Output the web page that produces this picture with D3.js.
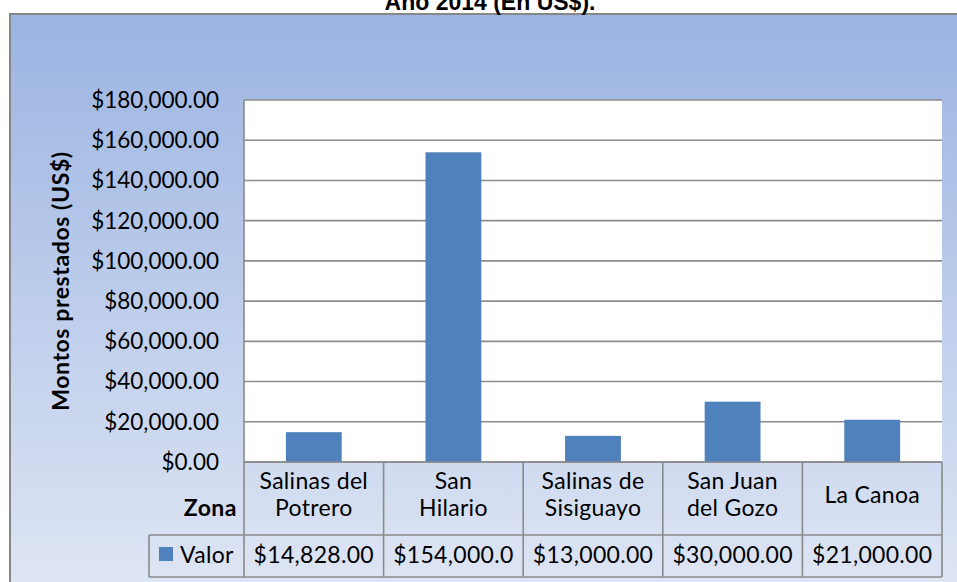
<!DOCTYPE html>
<html>
<head>
<meta charset="utf-8">
<style>
    body { margin: 0; background: #ffffff; }
    text { font-family: 'Lato', 'Open Sans', sans-serif; fill: #000000; }
    .grid line { stroke: #8c8c8c; stroke-width: 1.6px; }
    .cell { stroke: #8a8a8a; stroke-width: 1.6px; fill: none; }
</style>
</head>
<body>
<svg id="chart" width="957" height="582"></svg>
<script src="https://d3js.org/d3.v7.min.js"></script>
<script>
    // datos del grafico
    var zonas = [["Salinas del", "Potrero"], ["San", "Hilario"], ["Salinas de", "Sisiguayo"], ["San Juan", "del Gozo"], ["La Canoa"]];
    var valores = [14828, 154000, 13000, 30000, 21000];
    var yTicks = [0, 20000, 40000, 60000, 80000, 100000, 120000, 140000, 160000, 180000];
    var titulo = "Año 2014 (En US$).";
    var yTitulo = "Montos prestados (US$)";
    var serie = "Valor";

    var svg = d3.select('#chart');
    var plotLeft = 244, plotRight = 942, plotTop = 100, plotBottom = 462;
    var row1 = 535, row2 = 577;

    var fmt = d3.format("$,.2f");

    // fondo con degradado
    var grad = svg.append("defs").append("linearGradient")
        .attr("id", "bg").attr("x1", 0).attr("y1", 0).attr("x2", 0).attr("y2", 1);
    grad.append("stop").attr("offset", "0%").attr("stop-color", "#9bb4e2");
    grad.append("stop").attr("offset", "100%").attr("stop-color", "#dfe6f4");

    svg.append("rect")
        .attr("x", 10).attr("y", 14)
        .attr("width", 960).attr("height", 580)
        .attr("fill", "url(#bg)")
        .attr("stroke", "#878787").attr("stroke-width", 2);

    svg.append("text")
        .attr("x", 490).attr("y", 10)
        .attr("text-anchor", "middle")
        .style("font-family", "'Liberation Sans', Arial, sans-serif")
        .style("font-weight", "bold")
        .style("font-size", "23px")
        .text(titulo);

    var y = d3.scaleLinear().domain([0, 180000]).range([plotBottom, plotTop]);
    var cols = d3.scaleBand().domain(d3.range(valores.length)).range([plotLeft, plotRight]);
    var x = d3.scaleBand().domain(d3.range(valores.length)).range([plotLeft, plotRight])
        .paddingInner(0.6).paddingOuter(0.3);

    // area de trazado
    svg.append("rect")
        .attr("x", plotLeft).attr("y", plotTop)
        .attr("width", plotRight - plotLeft).attr("height", plotBottom - plotTop)
        .attr("fill", "#ffffff");

    svg.append("g").attr("class", "grid").selectAll("line")
        .data(yTicks).join("line")
        .attr("x1", plotLeft).attr("x2", plotRight)
        .attr("y1", d => y(d)).attr("y2", d => y(d));

    svg.append("line").attr("class", "cell")
        .attr("x1", plotLeft).attr("x2", plotLeft).attr("y1", plotTop).attr("y2", plotBottom);

    svg.append("g").selectAll("rect")
        .data(valores).join("rect")
        .attr("x", (d, i) => x(i))
        .attr("y", d => y(d))
        .attr("width", x.bandwidth())
        .attr("height", d => plotBottom - y(d))
        .attr("fill", "#4f81bd");

    // eje y
    svg.append("g").selectAll("text")
        .data(yTicks).join("text")
        .attr("x", 219)
        .attr("y", d => y(d))
        .attr("dy", "0.35em")
        .attr("text-anchor", "end")
        .style("font-size", "22.5px")
        .text(d => fmt(d));

    svg.append("text")
        .attr("transform", "translate(69," + 281 + ") rotate(-90)")
        .attr("text-anchor", "middle")
        .style("font-size", "23px")
        .style("font-weight", "bold")
        .style("letter-spacing", "0.6px")
        .text(yTitulo);

    // tabla de datos
    var tabla = svg.append("g");
    tabla.append("line").attr("class", "cell")
        .attr("x1", plotLeft).attr("x2", plotRight).attr("y1", plotBottom).attr("y2", plotBottom);
    tabla.append("line").attr("class", "cell")
        .attr("x1", 149).attr("x2", plotRight).attr("y1", row1).attr("y2", row1);
    tabla.append("line").attr("class", "cell")
        .attr("x1", 149).attr("x2", plotRight).attr("y1", row2).attr("y2", row2);
    tabla.append("line").attr("class", "cell")
        .attr("x1", 149).attr("x2", 149).attr("y1", row1).attr("y2", row2);
    tabla.selectAll(".vcol")
        .data(d3.range(valores.length + 1)).join("line")
        .attr("class", "cell")
        .attr("x1", d => plotLeft + d * cols.step()).attr("x2", d => plotLeft + d * cols.step())
        .attr("y1", plotBottom).attr("y2", row2);

    tabla.append("text")
        .attr("x", 237).attr("y", 516)
        .attr("text-anchor", "end")
        .style("font-size", "23px")
        .style("font-weight", "bold")
        .style("letter-spacing", "0.5px")
        .text("Zona");

    tabla.append("rect")
        .attr("x", 159).attr("y", 547)
        .attr("width", 14).attr("height", 14)
        .attr("fill", "#4f81bd");
    tabla.append("text")
        .attr("x", 180).attr("y", 563)
        .style("font-size", "23px")
        .style("letter-spacing", "0.3px")
        .text(serie);

    tabla.selectAll(".zona")
        .data(zonas).join("text")
        .attr("class", "zona")
        .attr("text-anchor", "middle")
        .style("font-size", "23px")
        .style("letter-spacing", "0.3px")
        .attr("x", (d, i) => cols(i) + cols.bandwidth() / 2)
        .attr("y", d => d.length == 1 ? 503 : 489)
        .each(function(d) {
            var t = d3.select(this);
            d.forEach(function(linea, k) {
                t.append("tspan")
                    .attr("x", t.attr("x"))
                    .attr("dy", k == 0 ? 0 : 27)
                    .text(linea);
            });
        });

    tabla.selectAll(".valor")
        .data(valores).join("text")
        .attr("class", "valor")
        .attr("text-anchor", "middle")
        .style("font-size", "23px")
        .style("letter-spacing", "0.3px")
        .attr("x", (d, i) => cols(i) + cols.bandwidth() / 2)
        .attr("y", 563)
        .text(d => fmt(d))
        .each(function() {
            // como en Excel, se recorta el texto que no cabe en la celda
            var s = d3.select(this).text();
            while (this.getComputedTextLength() > cols.bandwidth() - 8 && s.length > 1) {
                s = s.slice(0, -1);
                d3.select(this).text(s);
            }
        });
</script>
</body>
</html>
